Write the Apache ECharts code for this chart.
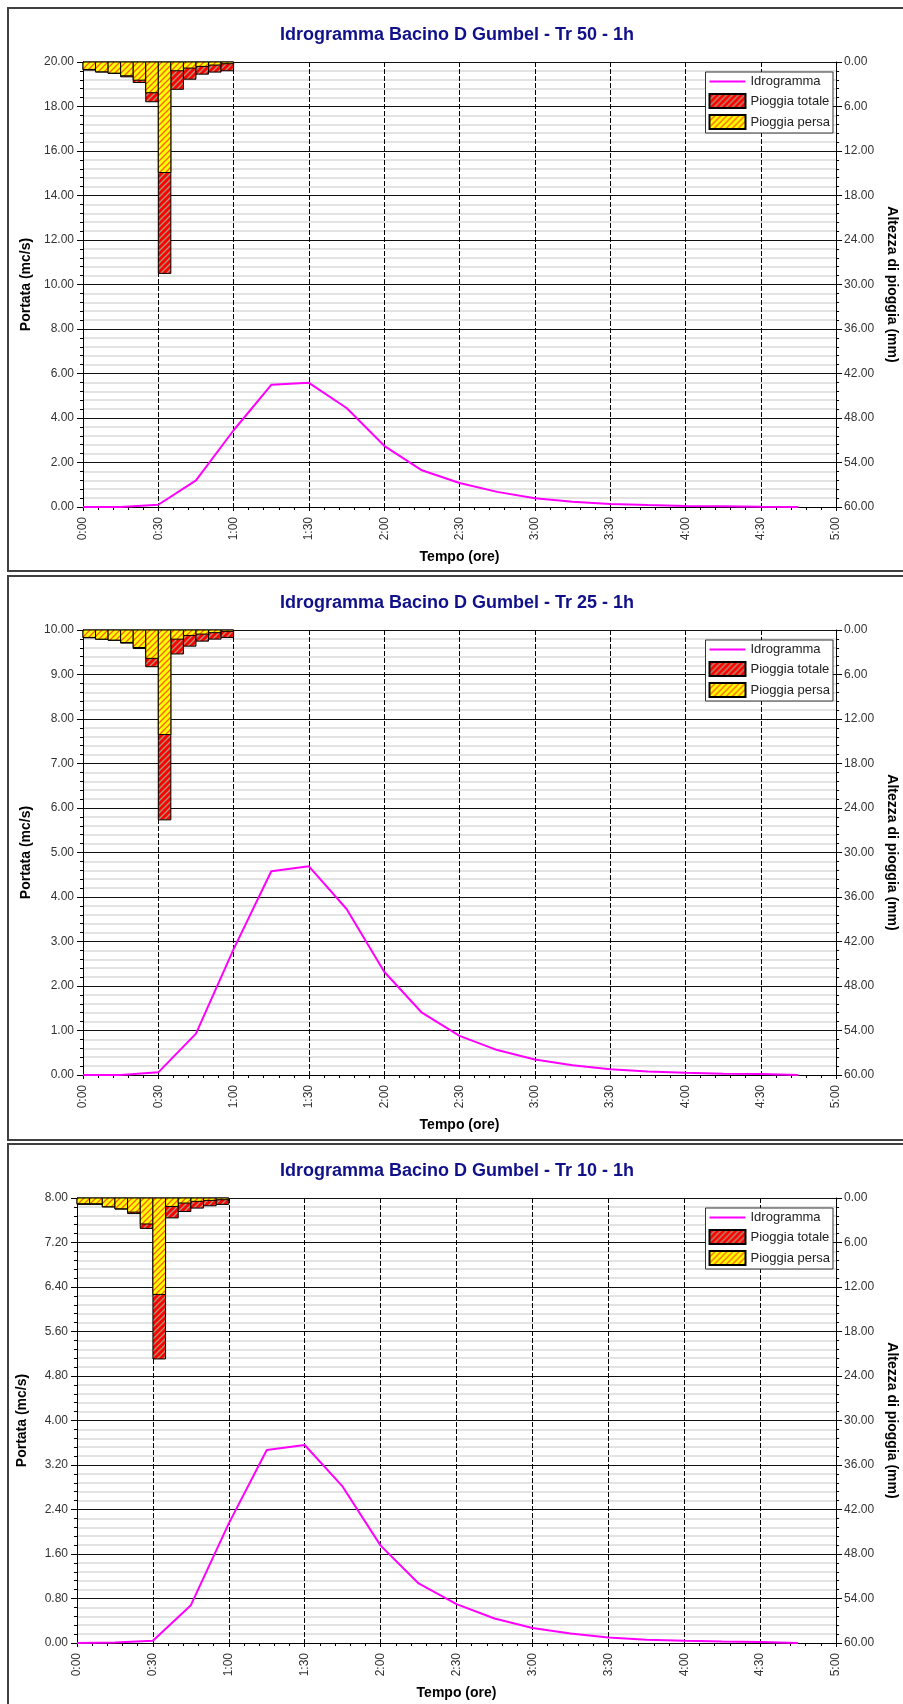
<!DOCTYPE html>
<html>
<head>
<meta charset="utf-8">
<title>Idrogrammi Bacino D Gumbel</title>
<script src="https://cdn.jsdelivr.net/npm/echarts@6/dist/echarts.min.js"></script>
<style>
  html, body { margin: 0; padding: 0; background: #fff; }
  body { width: 903px; height: 1704px; position: relative; overflow: hidden; }
  .pannello { position: absolute; left: 7px; width: 900px; }
</style>
</head>
<body>
<div id="tr50" class="pannello" style="top: 7px; height: 565px;"></div>
<div id="tr25" class="pannello" style="top: 575px; height: 566px;"></div>
<div id="tr10" class="pannello" style="top: 1143px; height: 570px;"></div>

<script>
// tempi (minuti dall'inizio dell'evento)
const tempoIdro = [0, 15, 30, 45, 60, 75, 90, 105, 120, 135, 150, 165, 180, 195, 210, 225, 240, 255, 270, 285]
const tempoPioggia = [0, 5, 10, 15, 20, 25, 30, 35, 40, 45, 50, 55]
const passoPioggia = 5

// portate (mc/s)
const idroTr50 = [0, 0.0, 0.10, 1.20, 3.45, 5.49, 5.58, 4.45, 2.75, 1.65, 1.08, 0.68, 0.39, 0.24, 0.14, 0.09, 0.05, 0.03, 0.01, 0]
const idroTr25 = [0, 0.0, 0.06, 0.93, 2.83, 4.58, 4.69, 3.73, 2.32, 1.40, 0.88, 0.56, 0.35, 0.22, 0.13, 0.08, 0.05, 0.03, 0.02, 0]
const idroTr10 = [0, 0.01, 0.04, 0.68, 2.15, 3.47, 3.56, 2.81, 1.75, 1.07, 0.70, 0.44, 0.27, 0.17, 0.10, 0.06, 0.04, 0.025, 0.02, 0]

// altezze di pioggia (mm) per intervallo di 5 minuti
const totaleTr50 = [1.09, 1.36, 1.55, 2.0, 2.77, 5.36, 28.5, 3.68, 2.32, 1.64, 1.36, 1.18]
const persaTr50 = [1.0, 1.32, 1.5, 1.86, 2.45, 4.14, 14.9, 1.18, 0.82, 0.59, 0.41, 0.23]
const totaleTr25 = [1.05, 1.25, 1.4, 1.77, 2.5, 4.95, 25.6, 3.23, 2.18, 1.5, 1.23, 1.0]
const persaTr25 = [1.0, 1.23, 1.36, 1.68, 2.36, 3.82, 14.1, 1.23, 0.73, 0.55, 0.36, 0.18]
const totaleTr10 = [0.86, 0.86, 1.2, 1.5, 2.1, 4.1, 21.7, 2.68, 1.82, 1.36, 1.05, 0.86]
const persaTr10 = [0.77, 0.77, 1.18, 1.45, 1.9, 3.5, 13.0, 1.14, 0.68, 0.45, 0.32, 0.23]

const FONT = 'Liberation Sans, Arial, sans-serif'

// tratteggio obliquo per le barre
function makeHatch(bg, fg) {
  const c = document.createElement('canvas')
  c.width = 6
  c.height = 6
  const ctx = c.getContext('2d')
  ctx.fillStyle = bg
  ctx.fillRect(0, 0, 6, 6)
  ctx.strokeStyle = fg
  ctx.lineWidth = 1.3
  ctx.beginPath()
  ctx.moveTo(0, 6); ctx.lineTo(6, 0)
  ctx.moveTo(-1, 1); ctx.lineTo(1, -1)
  ctx.moveTo(5, 7); ctx.lineTo(7, 5)
  ctx.stroke()
  return { image: c, repeat: 'repeat' }
}
const hatchTotale = makeHatch('#ff0000', '#a89878')
const hatchPersa = makeHatch('#ffff00', '#ff6000')

function fmtOre(v) {
  const h = Math.floor(v / 60)
  const m = Math.round(v % 60)
  return h + ':' + (m < 10 ? '0' + m : m)
}

function barRender(fill) {
  return function (params, api) {
    const a = api.coord([api.value(0), 0])
    const b = api.coord([api.value(0) + passoPioggia, api.value(1)])
    return {
      type: 'rect',
      shape: { x: a[0], y: a[1], width: b[0] - a[0], height: b[1] - a[1] },
      style: { fill: fill, stroke: '#000', lineWidth: 1 }
    }
  }
}

const panels = [
  { id: 'tr50', titolo: 'Idrogramma Bacino D Gumbel - Tr 50 - 1h', qMax: 20, qStep: 2,
    idro: idroTr50, totale: totaleTr50, persa: persaTr50, left: 76, width: 755, h: 565 },
  { id: 'tr25', titolo: 'Idrogramma Bacino D Gumbel - Tr 25 - 1h', qMax: 10, qStep: 1,
    idro: idroTr25, totale: totaleTr25, persa: persaTr25, left: 76, width: 755, h: 566 },
  { id: 'tr10', titolo: 'Idrogramma Bacino D Gumbel - Tr 10 - 1h', qMax: 8, qStep: 0.8,
    idro: idroTr10, totale: totaleTr10, persa: persaTr10, left: 67, width: 764, h: 570 }
]

panels.forEach(p => {
  const chart = echarts.init(document.getElementById(p.id), null, { renderer: 'canvas' })
  const option = {
    animation: false,
    textStyle: { fontFamily: FONT },
    title: {
      text: p.titolo,
      left: 'center',
      top: 19,
      padding: 0,
      textStyle: { fontFamily: FONT, fontSize: 18, fontWeight: 'bold', color: '#10108a' }
    },
    legend: {
      orient: 'vertical',
      right: 74,
      top: 65,
      padding: 3,
      itemGap: 5,
      itemWidth: 36,
      itemHeight: 14,
      backgroundColor: '#fff',
      borderColor: '#333',
      borderWidth: 1,
      textStyle: { fontFamily: FONT, fontSize: 13, color: '#222' },
      data: [
        // solo la linea, senza simbolo
        { name: 'Idrogramma', itemStyle: { color: 'rgba(0,0,0,0)', borderWidth: 0, opacity: 0 } },
        { name: 'Pioggia totale', icon: 'rect' },
        { name: 'Pioggia persa', icon: 'rect' }
      ]
    },
    grid: { left: p.left, top: 55, width: p.width, height: 445 },
    xAxis: {
      type: 'value',
      min: 0,
      max: 300,
      interval: 30,
      name: 'Tempo (ore)',
      nameLocation: 'middle',
      nameGap: 43,
      nameTextStyle: { fontFamily: FONT, fontSize: 14, fontWeight: 'bold', color: '#000' },
      axisLine: { lineStyle: { color: '#000', width: 1 } },
      axisTick: { show: true, length: 4, lineStyle: { color: '#000' } },
      minorTick: { show: true, splitNumber: 5, length: 3, lineStyle: { color: '#000' } },
      axisLabel: { rotate: 90, margin: 10, fontSize: 12, color: '#333', formatter: fmtOre },
      splitLine: { show: true, lineStyle: { color: '#000', width: 1, type: [5, 2] } }
    },
    yAxis: [
      {
        type: 'value',
        min: 0,
        max: p.qMax,
        interval: p.qStep,
        position: 'left',
        name: 'Portata (mc/s)',
        nameLocation: 'middle',
        nameRotate: 90,
        nameGap: 48,
        nameTextStyle: { fontFamily: FONT, fontSize: 14, fontWeight: 'bold', color: '#000' },
        axisLine: { show: true, lineStyle: { color: '#000', width: 1 } },
        axisTick: { show: true, length: 6, lineStyle: { color: '#000' } },
        minorTick: { show: true, splitNumber: 5, length: 3, lineStyle: { color: '#000' } },
        axisLabel: { margin: 9, fontSize: 12, color: '#333', formatter: v => v.toFixed(2) },
        splitLine: { show: true, lineStyle: { color: '#111', width: 1 } },
        minorSplitLine: { show: true, lineStyle: { color: '#dadada', width: 1.5 } }
      },
      {
        type: 'value',
        min: 0,
        max: 60,
        interval: 6,
        inverse: true,
        position: 'right',
        name: 'Altezza di pioggia (mm)',
        nameLocation: 'middle',
        nameRotate: -90,
        nameGap: 45,
        nameTextStyle: { fontFamily: FONT, fontSize: 14, fontWeight: 'bold', color: '#000' },
        axisLine: { show: true, lineStyle: { color: '#000', width: 1 } },
        axisTick: { show: true, length: 6, lineStyle: { color: '#000' } },
        minorTick: { show: true, splitNumber: 5, length: 3, lineStyle: { color: '#000' } },
        axisLabel: { margin: 8, fontSize: 12, color: '#333', formatter: v => v.toFixed(2) },
        splitLine: { show: false }
      }
    ],
    graphic: [{
      type: 'rect',
      silent: true,
      z: 100,
      shape: { x: 1, y: 1, width: 900, height: p.h - 2 },
      style: { fill: null, stroke: '#404040', lineWidth: 2 }
    }],
    series: [
      {
        name: 'Idrogramma',
        type: 'line',
        yAxisIndex: 0,
        symbol: 'none',
        z: 5,
        lineStyle: { color: '#ff00ff', width: 2 },
        itemStyle: { color: '#ff00ff' },
        data: tempoIdro.map((t, i) => [t, p.idro[i]])
      },
      {
        name: 'Pioggia totale',
        type: 'custom',
        yAxisIndex: 1,
        encode: { x: 0, y: 1 },
        itemStyle: { color: hatchTotale, borderColor: '#000', borderWidth: 1 },
        renderItem: barRender(hatchTotale),
        data: tempoPioggia.map((t, i) => [t, p.totale[i]])
      },
      {
        name: 'Pioggia persa',
        type: 'custom',
        yAxisIndex: 1,
        encode: { x: 0, y: 1 },
        itemStyle: { color: hatchPersa, borderColor: '#000', borderWidth: 1 },
        renderItem: barRender(hatchPersa),
        data: tempoPioggia.map((t, i) => [t, p.persa[i]])
      }
    ]
  }
  chart.setOption(option)
})
</script>
</body>
</html>
